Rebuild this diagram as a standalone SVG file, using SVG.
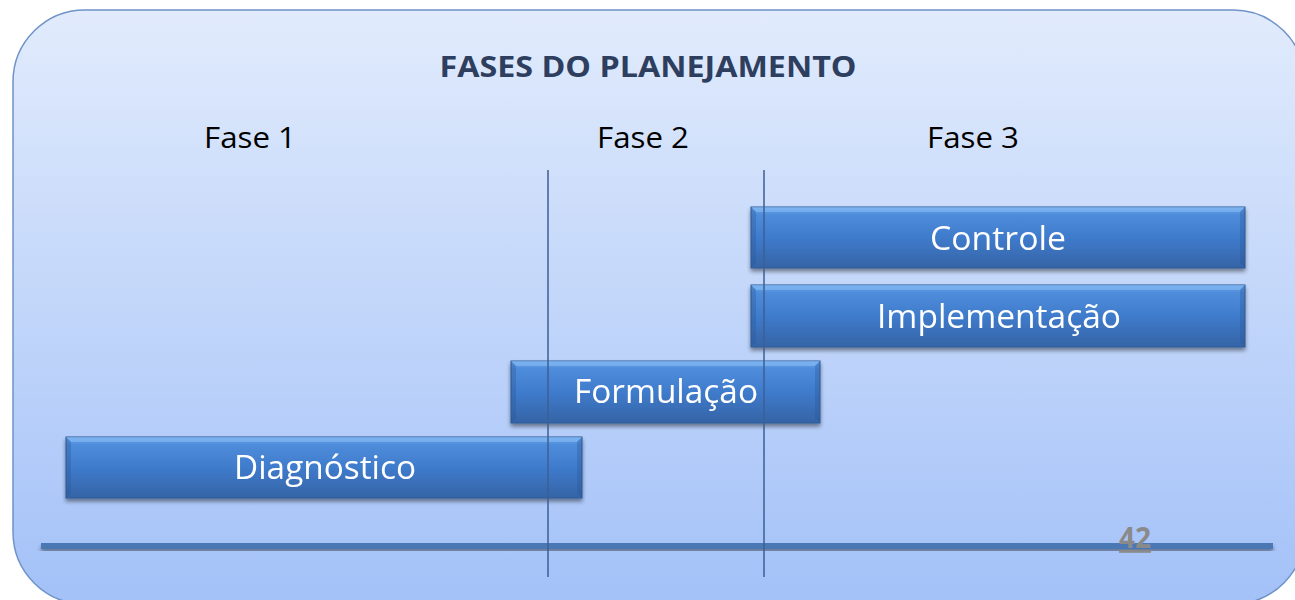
<svg xmlns="http://www.w3.org/2000/svg" width="1295" height="600" viewBox="0 0 1295 600">
<defs>
<linearGradient id="bg" x1="0" y1="0" x2="0" y2="1">
<stop offset="0" stop-color="#e1ebfc"/>
<stop offset="1" stop-color="#a3c1f8"/>
</linearGradient>
<linearGradient id="bar" x1="0" y1="0" x2="0" y2="1">
<stop offset="0" stop-color="#6aa6ec"/>
<stop offset="0.12" stop-color="#4f8ddb"/>
<stop offset="0.5" stop-color="#3f7bcc"/>
<stop offset="1" stop-color="#3564a6"/>
</linearGradient>
<filter id="sh" x="-5%" y="-20%" width="110%" height="150%">
<feGaussianBlur in="SourceAlpha" stdDeviation="2"/>
<feOffset dx="0" dy="3" result="b"/>
<feComponentTransfer><feFuncA type="linear" slope="0.45"/></feComponentTransfer>
<feMerge><feMergeNode/><feMergeNode in="SourceGraphic"/></feMerge>
</filter>
</defs>
<style>
.bar{fill:url(#bar);stroke:#2f5a95;stroke-width:1}
.hl{fill:#8cc0f5;opacity:0.55}
.bv{fill:#2c5594;opacity:0.35}
.lbl{font-family:"Open Sans","Liberation Sans",sans-serif;font-size:32px;fill:#ffffff;text-anchor:middle}
.fase{font-family:"Open Sans","Liberation Sans",sans-serif;font-size:29px;fill:#000000}
.vl{stroke:#3d5f95;stroke-width:1.5}
</style>
<rect x="13" y="10" width="1292" height="594" rx="72" ry="72" fill="url(#bg)" stroke="#6f93c8" stroke-width="1.5"/>
<text x="648" y="77" font-family="'Open Sans','Liberation Sans',sans-serif" font-weight="bold" font-size="28" fill="#2e3e5e" text-anchor="middle" textLength="417" lengthAdjust="spacingAndGlyphs">FASES DO PLANEJAMENTO</text>
<text class="fase" x="250" y="148" text-anchor="middle" textLength="92" lengthAdjust="spacingAndGlyphs">Fase 1</text>
<text class="fase" x="643" y="148" text-anchor="middle" textLength="92" lengthAdjust="spacingAndGlyphs">Fase 2</text>
<text class="fase" x="973" y="148" text-anchor="middle" textLength="92" lengthAdjust="spacingAndGlyphs">Fase 3</text>
<g id="baseline" filter="url(#sh)">
<rect x="41" y="543" width="1232" height="6" fill="#4a78b5"/>
</g>
<g id="n-diagnostico" filter="url(#sh)">
<rect class="bar" x="66" y="437" width="516" height="61"/>
<polygon class="hl" points="66,437 582,437 577,442 71,442"/>
<polygon class="bv" points="66,437 71,442 71,493 66,498"/>
<polygon class="bv" points="582,437 577,442 577,493 582,498"/>
<text class="lbl" x="325" y="479" textLength="182" lengthAdjust="spacingAndGlyphs">Diagnóstico</text>
</g>
<g id="n-formulacao" filter="url(#sh)">
<rect class="bar" x="511" y="361" width="309" height="62"/>
<polygon class="hl" points="511,361 820,361 815,366 516,366"/>
<polygon class="bv" points="511,361 516,366 516,418 511,423"/>
<polygon class="bv" points="820,361 815,366 815,418 820,423"/>
<text class="lbl" x="666" y="403" textLength="184" lengthAdjust="spacingAndGlyphs">Formulação</text>
</g>
<g id="n-implementacao" filter="url(#sh)">
<rect class="bar" x="751" y="285" width="494" height="62"/>
<polygon class="hl" points="751,285 1245,285 1240,290 756,290"/>
<polygon class="bv" points="751,285 756,290 756,342 751,347"/>
<polygon class="bv" points="1245,285 1240,290 1240,342 1245,347"/>
<text class="lbl" x="999" y="328" textLength="244" lengthAdjust="spacingAndGlyphs">Implementação</text>
</g>
<g id="n-controle" filter="url(#sh)">
<rect class="bar" x="751" y="207" width="494" height="61"/>
<polygon class="hl" points="751,207 1245,207 1240,212 756,212"/>
<polygon class="bv" points="751,207 756,212 756,263 751,268"/>
<polygon class="bv" points="1245,207 1240,212 1240,263 1245,268"/>
<text class="lbl" x="998" y="250" textLength="136" lengthAdjust="spacingAndGlyphs">Controle</text>
</g>
<g id="connectors">
<line class="vl" x1="548" y1="170" x2="548" y2="577"/>
<line class="vl" x1="764" y1="170" x2="764" y2="577"/>
</g>
<text x="1135" y="548" font-family="'Open Sans','Liberation Sans',sans-serif" font-weight="bold" font-size="28" fill="#8a8a8a" text-anchor="middle" text-decoration="underline">42</text>
</svg>
